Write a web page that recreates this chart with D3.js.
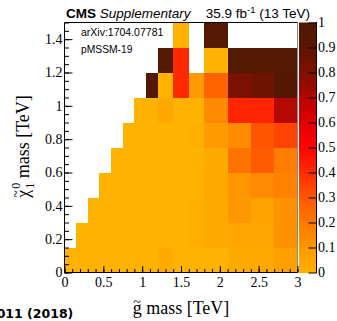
<!DOCTYPE html>
<html><head><meta charset="utf-8">
<script src="https://cdn.jsdelivr.net/npm/d3@7"></script>
<style>body{margin:0;background:#fff} svg{display:block}</style>
</head><body>
<svg id="c" width="337" height="321"></svg>
<script>
// bin edges (TeV)
const xEdges = [0,0.15,0.3,0.45,0.6,0.75,0.9,1.05,1.2,1.4,1.6,1.8,2.1,2.4,2.7,3.0];
const yEdges = [0,0.15,0.3,0.45,0.6,0.75,0.9,1.05,1.2,1.35,1.5];
// fraction of excluded models, one array per gluino-mass bin, rows from low to high neutralino mass (null = empty)
const fraction = [
  [0],
  [0,0],
  [0,0,0],
  [0,0,0,0],
  [0,0,0,0,0],
  [0,0,0,0,0,0],
  [0,0,0,0,0,0,0],
  [0,0,0,0,0,0,0,0.97],
  [0.03,0,0,0,0,0,0.04,0,0.97],
  [0,0,0,0,0,0,0,0.41,0.41,0],
  [0,0.01,0.01,0,0,0.01,0,0.09,null,null],
  [0,0.03,0.04,0.04,0.03,0.09,0.14,0.265,0,0.97],
  [0.03,0.05,0.10,0.11,0.22,0.14,0.42,0.81,0.97,null],
  [0.035,0.055,0.06,0.15,0.29,0.31,0.42,0.85,0.97,null],
  [0.07,0.12,0.12,0.17,0.19,0.35,0.70,0.96,0.97,null]
];
const xMajor = [0,0.5,1,1.5,2,2.5,3];
const yMajor = [0,0.2,0.4,0.6,0.8,1,1.2,1.4];
const zTicks = [0,0.1,0.2,0.3,0.4,0.5,0.6,0.7,0.8,0.9,1];
const paletteStops = [0,0.1,0.2,0.3,0.4,0.5,0.6,0.7,0.8,0.9,1];
const paletteColors = ["#ffb200","#ff9800","#ff7a00","#ff5800","#ff2d00","#ff0600","#e40000","#b40800","#7e1000","#5e1600","#4e1a04"];

const svg = d3.select("#c");
const x = d3.scaleLinear([0,3],[64.5,297.5]);
const y = d3.scaleLinear([0,1.5],[272.5,22.5]);
const z = d3.scaleLinear([0,1],[272.5,22.5]);
const color = d3.scaleLinear(paletteStops, paletteColors).interpolate(d3.interpolateRgb).clamp(true);

// cells
const cells = [];
fraction.forEach((col,i)=>col.forEach((v,j)=>{ if(v!==null) cells.push({x0:xEdges[i],x1:xEdges[i+1],y0:yEdges[j],y1:yEdges[j+1],v}); }));
svg.append("g").selectAll("rect").data(cells).join("rect")
  .attr("x",d=>x(d.x0)).attr("width",d=>x(d.x1)-x(d.x0))
  .attr("y",d=>y(d.y1)).attr("height",d=>y(d.y0)-y(d.y1))
  .attr("fill",d=>color(d.v)).attr("shape-rendering","crispEdges");

// color bar
const step = 0.004;
svg.append("g").selectAll("rect").data(d3.range(0,1,step)).join("rect")
  .attr("x",299).attr("width",17)
  .attr("y",d=>z(d+step)).attr("height",d=>z(d)-z(d+step)+0.6)
  .attr("fill",d=>color(d+step/2));
svg.append("line").attr("x1",316.5).attr("x2",316.5).attr("y1",22).attr("y2",273).attr("stroke","#000");

// frame
svg.append("line").attr("x1",297.5).attr("x2",297.5).attr("y1",22.5).attr("y2",272.5).attr("stroke","#888");
svg.append("path").attr("d",`M${x(3)},22.5H64.5V272.5H${x(3)}`).attr("fill","none").attr("stroke","#000");

const fmt = d=>String(+d.toFixed(2));
const serif = "'Liberation Serif','Times New Roman',serif";
function styleAxis(g){ g.select(".domain").remove(); g.selectAll("text").attr("fill","#000").style("font-family",serif).style("font-size","14px"); g.selectAll("line").attr("stroke","#000"); }

// x axis
svg.append("g").attr("transform","translate(0,272.5)")
  .call(d3.axisBottom(x).tickValues(d3.range(0,3.001,0.1)).tickSize(-3.5).tickFormat(""))
  .call(styleAxis);
svg.append("g").attr("transform","translate(0,272.5)")
  .call(d3.axisBottom(x).tickValues(xMajor).tickSize(-6.5).tickPadding(4.5).tickFormat(fmt))
  .call(styleAxis);
// y axis
svg.append("g").attr("transform","translate(64.5,0)")
  .call(d3.axisLeft(y).tickValues(d3.range(0,1.501,0.05)).tickSize(-4.5).tickFormat(""))
  .call(styleAxis);
svg.append("g").attr("transform","translate(64.5,0)")
  .call(d3.axisLeft(y).tickValues(yMajor).tickSize(-8).tickPadding(2).tickFormat(fmt))
  .call(styleAxis);
// z axis
svg.append("g").attr("transform","translate(316.5,0)")
  .call(d3.axisRight(z).tickValues(zTicks).tickSize(-8).tickPadding(1.5).tickFormat(fmt))
  .call(styleAxis);

// x title
const xt = svg.append("text").attr("x",181).attr("y",314).attr("text-anchor","middle")
  .style("font-family",serif).style("font-size","18px").attr("fill","#000");
xt.append("tspan").text("g");
xt.append("tspan").text(" mass [TeV]");
const gx = xt.node().getExtentOfChar(0);
svg.append("text").attr("x",gx.x+gx.width/2).attr("y",306.8).attr("text-anchor","middle")
  .style("font-family",serif).style("font-size","14px").text("~");

// y title
const yt = svg.append("g").attr("transform","translate(29.3,146.5) rotate(-90)")
  .style("font-family",serif).style("font-size","18px").attr("fill","#000");
const chi = yt.append("text").text("χ");
const wChi = chi.node().getComputedTextLength();
const sup = yt.append("text").text("0").style("font-size","12px");
const sub = yt.append("text").text("1").style("font-size","12px");
const wS = Math.max(sup.node().getComputedTextLength(), sub.node().getComputedTextLength());
const rest = yt.append("text").text("mass [TeV]");
const wR = rest.node().getComputedTextLength();
const total = wChi + 1 + wS + 4.5 + wR;
const x0 = -total/2;
chi.attr("x",x0).attr("y",0);
sup.attr("x",x0+wChi+1).attr("y",-9);
sub.attr("x",x0+wChi+1).attr("y",5);
rest.attr("x",x0+wChi+1+wS+4.5).attr("y",0);
yt.append("text").attr("x",x0+wChi/2).attr("y",-8).attr("text-anchor","middle").style("font-size","14px").text("~");

// header
const sans = "'Liberation Sans',Arial,Helvetica,sans-serif";
const hdr = svg.append("text").attr("x",66).attr("y",18.3).style("font-family",sans).style("font-size","13.5px");
hdr.append("tspan").attr("font-weight","bold").text("CMS");
hdr.append("tspan").attr("font-style","italic").text(" Supplementary");
const lumi = svg.append("text").attr("x",310).attr("y",18.3).attr("text-anchor","end").style("font-family",sans).style("font-size","13.5px");
lumi.append("tspan").text("35.9 fb");
lumi.append("tspan").attr("dy",-5).style("font-size","9.5px").text("-1");
lumi.append("tspan").attr("dy",5).text(" (13 TeV)");

svg.append("text").attr("x",81).attr("y",35.7).style("font-family",sans).style("font-size","10.5px").text("arXiv:1704.07781");
svg.append("text").attr("x",81).attr("y",53).style("font-family",sans).style("font-size","10.3px").text("pMSSM-19");

svg.append("text").attr("x",73.3).attr("y",318.3).attr("text-anchor","end")
  .style("font-family","'DejaVu Sans',sans-serif").style("font-weight","bold").style("font-size","12.5px").text("011 (2018)");
</script>
</body></html>
